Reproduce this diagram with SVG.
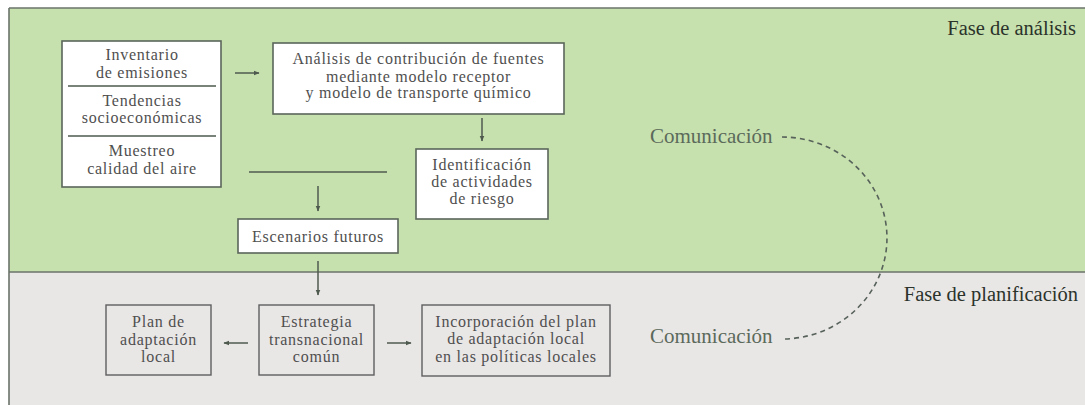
<svg xmlns="http://www.w3.org/2000/svg" width="1085" height="405" viewBox="0 0 1085 405">
<defs>
<style>
.bx{fill:#ffffff;stroke:#5a665a;stroke-width:1.6}
.bg{fill:#e9e6e6;stroke:#5f5f5f;stroke-width:1.4}
.t{font-family:"Liberation Serif","Times New Roman",serif;font-size:16px;letter-spacing:0.75px;fill:#4f4f4f;text-anchor:middle}
.com{font-family:"Liberation Serif","Times New Roman",serif;font-size:21px;fill:#5b6a5b}
.ph{font-family:"Liberation Serif","Times New Roman",serif;font-size:20.5px;fill:#2b332b;text-anchor:end}
.ln{stroke:#4e5a4e;stroke-width:1.5;fill:none}
.ar{stroke:#4e5a4e;stroke-width:1.5;fill:none;marker-end:url(#ah)}
.dash{stroke:#56625a;stroke-width:1.6;fill:none;stroke-dasharray:5 4}
</style>
<marker id="ah" viewBox="0 0 10 10" refX="9" refY="5" markerWidth="6" markerHeight="6" markerUnits="userSpaceOnUse" orient="auto">
<path d="M0,1 L10,5 L0,9 Z" fill="#4e5a4e"/>
</marker>
</defs>
<rect x="0" y="0" width="1085" height="405" fill="#ffffff"/>
<g id="fases">
<rect x="9" y="8" width="1090" height="264" fill="#c7e1ae"/>
<rect x="9" y="272" width="1090" height="140" fill="#e9e6e6"/>
<line x1="9" y1="8" x2="1085" y2="8" stroke="#6a736a" stroke-width="1.6"/>
<line x1="9" y1="8" x2="9" y2="405" stroke="#6a736a" stroke-width="1.6"/>
<line x1="9" y1="272" x2="1085" y2="272" stroke="#6a736a" stroke-width="1.6"/>
<text class="ph" x="1076" y="35">Fase de análisis</text>
<text class="ph" x="1078" y="301" fill="#333">Fase de planificación</text>
</g>
<g id="entradas">
<rect class="bx" x="62" y="41" width="159" height="146"/>
<line class="ln" x1="68" y1="86" x2="216" y2="86"/>
<line class="ln" x1="68" y1="136" x2="216" y2="136"/>
<text class="t" x="142" y="60">Inventario</text>
<text class="t" x="142" y="77.5">de emisiones</text>
<text class="t" x="142" y="106">Tendencias</text>
<text class="t" x="142" y="123">socioeconómicas</text>
<text class="t" x="142" y="156">Muestreo</text>
<text class="t" x="142" y="173.5">calidad del aire</text>
</g>
<g id="analisis">
<rect class="bx" x="273" y="43" width="291" height="71"/>
<text class="t" x="418.5" y="64">Análisis de contribución de fuentes</text>
<text class="t" x="418.5" y="81.5">mediante modelo receptor</text>
<text class="t" x="418.5" y="98">y modelo de transporte químico</text>
</g>
<g id="identificacion">
<rect class="bx" x="416" y="149" width="132" height="70"/>
<text class="t" x="482" y="170">Identificación</text>
<text class="t" x="482" y="187">de actividades</text>
<text class="t" x="482" y="204">de riesgo</text>
</g>
<g id="escenarios">
<rect class="bx" x="238" y="219" width="160" height="34"/>
<text class="t" x="318" y="242">Escenarios futuros</text>
</g>
<g id="plan">
<rect class="bg" x="106" y="305" width="105" height="70"/>
<text class="t" x="158.5" y="327">Plan de</text>
<text class="t" x="158.5" y="345">adaptación</text>
<text class="t" x="158.5" y="362">local</text>
</g>
<g id="estrategia">
<rect class="bg" x="259" y="305" width="115" height="70"/>
<text class="t" x="316.5" y="327">Estrategia</text>
<text class="t" x="316.5" y="345">transnacional</text>
<text class="t" x="316.5" y="362">común</text>
</g>
<g id="incorporacion">
<rect class="bg" x="422" y="305" width="188" height="71"/>
<text class="t" x="516" y="327">Incorporación del plan</text>
<text class="t" x="516" y="344">de adaptación local</text>
<text class="t" x="516" y="362">en las políticas locales</text>
</g>
<g id="comunicacion">
<text class="com" x="650" y="143">Comunicación</text>
<text class="com" x="650" y="343">Comunicación</text>
</g>
<g id="conectores">
<line class="ar" x1="235" y1="73" x2="259" y2="73"/>
<line class="ar" x1="482" y1="118" x2="482" y2="141"/>
<line class="ln" x1="249" y1="172" x2="387" y2="172"/>
<line class="ar" x1="318" y1="186" x2="318" y2="211"/>
<line class="ar" x1="318" y1="261" x2="318" y2="295"/>
<line class="ar" x1="248" y1="343" x2="224" y2="343"/>
<line class="ar" x1="387" y1="343" x2="411" y2="343"/>
<path class="dash" d="M782,137 A105,101 0 0 1 782,339"/>
</g>
</svg>
